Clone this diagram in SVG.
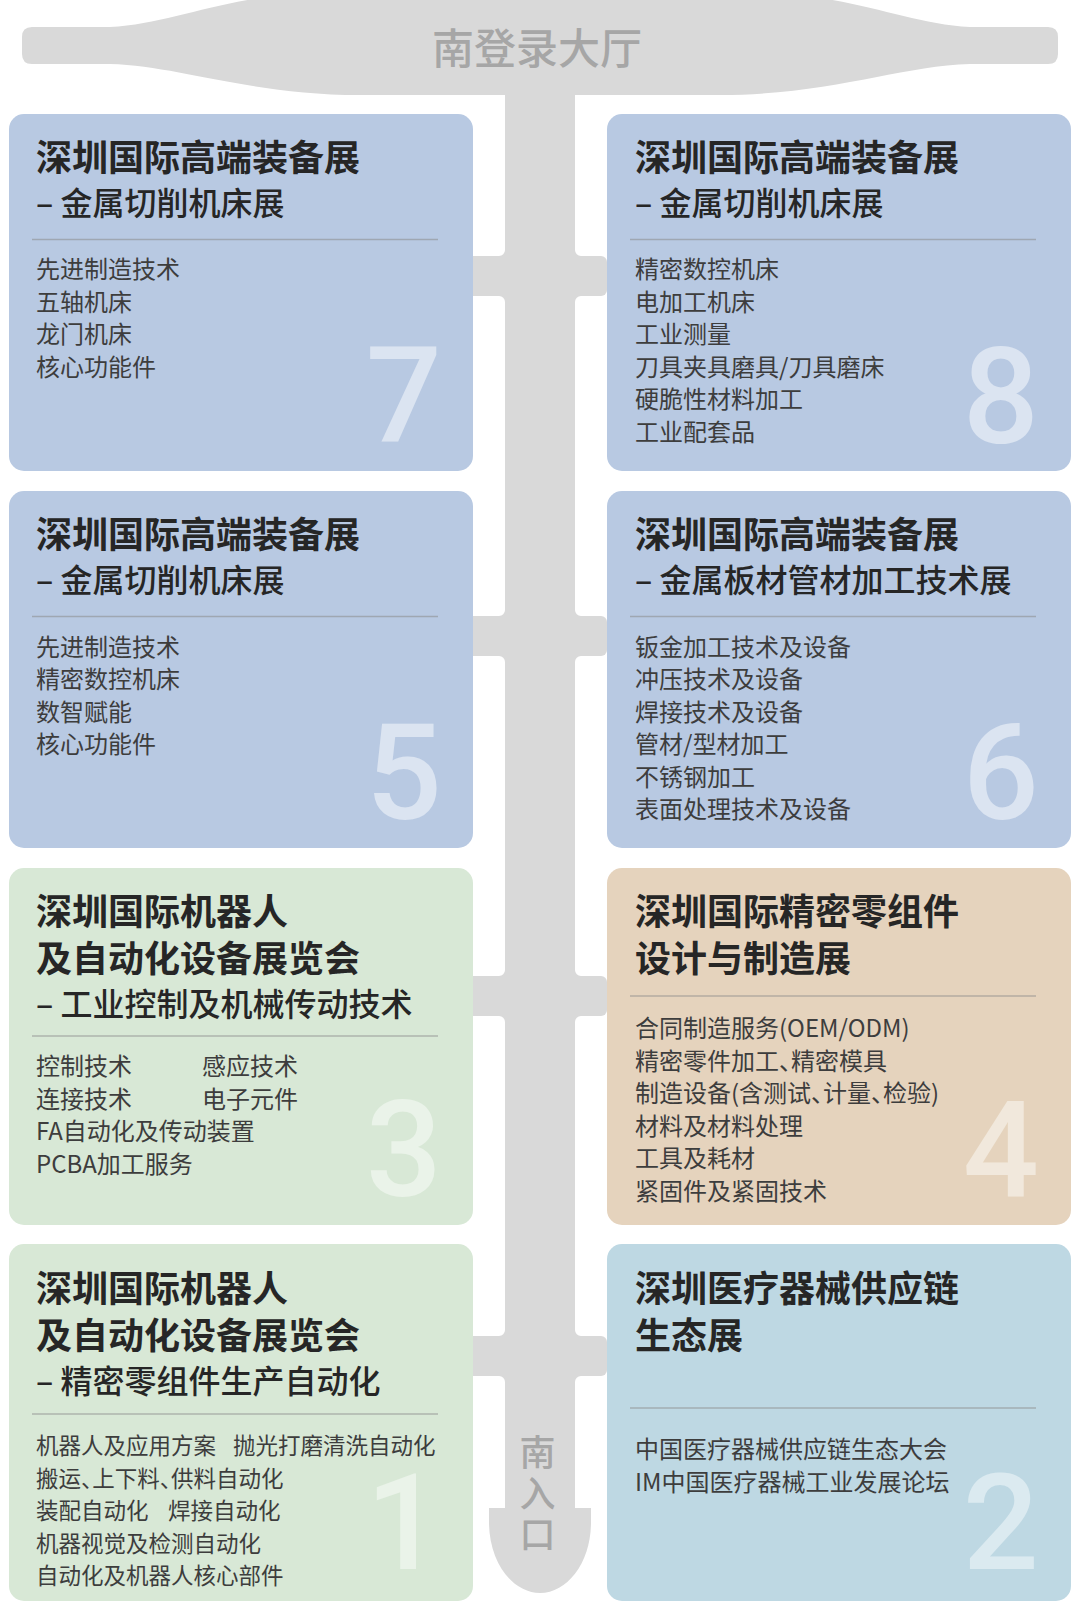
<svg xmlns="http://www.w3.org/2000/svg" width="1080" height="1603" viewBox="0 0 1080 1603">
<style>
.gray{fill:#d9d9d9}
.lbl{font-family:"Noto Sans CJK SC",sans-serif;font-weight:500;fill:#a6a6a6;text-anchor:middle;font-size:42px}
.vl{font-family:"Noto Sans CJK SC",sans-serif;font-weight:500;fill:#a6a6a6;font-size:36px;writing-mode:vertical-rl;letter-spacing:5px}
.blue{fill:#b8c9e2}
.green{fill:#d8e8d6}
.beige{fill:#e5d3bd}
.lblue{fill:#bed8e3}
.t1{font-family:"Noto Sans CJK SC",sans-serif;font-weight:700;font-size:36px;fill:#262626}
.t2{font-family:"Noto Sans CJK SC",sans-serif;font-weight:500;font-size:32px;fill:#262626}
.it{font-family:"Noto Sans CJK SC",sans-serif;font-weight:400;font-size:24px;fill:#3d3d3d}
.it.sm{font-size:22.5px}
.half{font-feature-settings:"halt" 1}
.num{font-family:Roboto,"Liberation Sans",sans-serif;font-weight:500;font-size:134px;text-anchor:end}
.nb{fill:#dbe4f1}
.ng{fill:#eaf3e9}
.ne{fill:#f1e8dc}
.nl{fill:#dbeaf0}
.dv{stroke:#8a8a8a;stroke-opacity:0.55;stroke-width:1.5}
</style>
<g id="connectors">
<rect class="gray" x="505" y="60" width="70" height="1452"/>
<path class="gray" d="M489,1508 L591,1508 L591,1522 C591,1563 567,1593 540,1593 C513,1593 489,1563 489,1522 Z"/>
<rect class="gray" x="466" y="256" width="141" height="40" rx="6"/>
<rect class="gray" x="466" y="616" width="141" height="40" rx="6"/>
<rect class="gray" x="466" y="976" width="141" height="40" rx="6"/>
<rect class="gray" x="466" y="1336" width="141" height="40" rx="6"/>
<path class="gray" d="M505,250 L505,256 L499,256 A6 6 0 0 0 505,250 Z M575,250 L575,256 L581,256 A6 6 0 0 1 575,250 Z M505,302 L505,296 L499,296 A6 6 0 0 1 505,302 Z M575,302 L575,296 L581,296 A6 6 0 0 0 575,302 Z"/>
<path class="gray" d="M505,610 L505,616 L499,616 A6 6 0 0 0 505,610 Z M575,610 L575,616 L581,616 A6 6 0 0 1 575,610 Z M505,662 L505,656 L499,656 A6 6 0 0 1 505,662 Z M575,662 L575,656 L581,656 A6 6 0 0 0 575,662 Z"/>
<path class="gray" d="M505,970 L505,976 L499,976 A6 6 0 0 0 505,970 Z M575,970 L575,976 L581,976 A6 6 0 0 1 575,970 Z M505,1022 L505,1016 L499,1016 A6 6 0 0 1 505,1022 Z M575,1022 L575,1016 L581,1016 A6 6 0 0 0 575,1022 Z"/>
<path class="gray" d="M505,1330 L505,1336 L499,1336 A6 6 0 0 0 505,1330 Z M575,1330 L575,1336 L581,1336 A6 6 0 0 1 575,1330 Z M505,1382 L505,1376 L499,1376 A6 6 0 0 1 505,1382 Z M575,1382 L575,1376 L581,1376 A6 6 0 0 0 575,1382 Z"/>
<text class="vl" x="537.5" y="1434">南入口</text>
</g>
<g id="hall">
<path class="gray" d="M32,27 L110,27 C170,24 220,-2 300,-6 L780,-6 C860,-2 910,24 970,27 L1048,27 Q1058,27 1058,37 L1058,54 Q1058,64 1048,64 L970,64 C900,66 830,95 720,95 L360,95 C250,95 180,66 110,64 L32,64 Q22,64 22,54 L22,37 Q22,27 32,27 Z"/>
<text class="lbl" x="537" y="64">南登录大厅</text>
</g>
<g id="hall7">
<rect class="blue" x="9" y="114" width="464" height="357" rx="15"/>
<text class="t1" x="36" y="171">深圳国际高端装备展</text>
<text class="t2" x="36" y="215">– 金属切削机床展</text>
<line class="dv" x1="32" y1="239.5" x2="438" y2="239.5"/>
<text class="it"><tspan x="36" y="278">先进制造技术</tspan><tspan x="36" y="310.5">五轴机床</tspan><tspan x="36" y="343">龙门机床</tspan><tspan x="36" y="375.5">核心功能件</tspan></text>
<text class="num nb" x="442" y="442">7</text>
</g>
<g id="hall8">
<rect class="blue" x="607" y="114" width="464" height="357" rx="15"/>
<text class="t1" x="635" y="171">深圳国际高端装备展</text>
<text class="t2" x="635" y="215">– 金属切削机床展</text>
<line class="dv" x1="630" y1="239.5" x2="1036" y2="239.5"/>
<text class="it"><tspan x="635" y="278">精密数控机床</tspan><tspan x="635" y="310.5">电加工机床</tspan><tspan x="635" y="343">工业测量</tspan><tspan x="635" y="375.5">刀具夹具磨具/刀具磨床</tspan><tspan x="635" y="408">硬脆性材料加工</tspan><tspan x="635" y="440.5">工业配套品</tspan></text>
<text class="num nb" x="1039" y="443">8</text>
</g>
<g id="hall5">
<rect class="blue" x="9" y="491" width="464" height="357" rx="15"/>
<text class="t1" x="36" y="548">深圳国际高端装备展</text>
<text class="t2" x="36" y="592">– 金属切削机床展</text>
<line class="dv" x1="32" y1="616.5" x2="438" y2="616.5"/>
<text class="it"><tspan x="36" y="655.5">先进制造技术</tspan><tspan x="36" y="688">精密数控机床</tspan><tspan x="36" y="720.5">数智赋能</tspan><tspan x="36" y="753">核心功能件</tspan></text>
<text class="num nb" x="442" y="819">5</text>
</g>
<g id="hall6">
<rect class="blue" x="607" y="491" width="464" height="357" rx="15"/>
<text class="t1" x="635" y="548">深圳国际高端装备展</text>
<text class="t2" x="635" y="592">– 金属板材管材加工技术展</text>
<line class="dv" x1="630" y1="616.5" x2="1036" y2="616.5"/>
<text class="it"><tspan x="635" y="655.5">钣金加工技术及设备</tspan><tspan x="635" y="688">冲压技术及设备</tspan><tspan x="635" y="720.5">焊接技术及设备</tspan><tspan x="635" y="753">管材/型材加工</tspan><tspan x="635" y="785.5">不锈钢加工</tspan><tspan x="635" y="818">表面处理技术及设备</tspan></text>
<text class="num nb" x="1039" y="819">6</text>
</g>
<g id="hall3">
<rect class="green" x="9" y="868" width="464" height="357" rx="15"/>
<text class="t1" x="36" y="925">深圳国际机器人</text>
<text class="t1" x="36" y="972">及自动化设备展览会</text>
<text class="t2" x="36" y="1016">– 工业控制及机械传动技术</text>
<line class="dv" x1="32" y1="1036" x2="438" y2="1036"/>
<text class="it"><tspan x="36" y="1075">控制技术</tspan><tspan x="202" y="1075">感应技术</tspan><tspan x="36" y="1107.5">连接技术</tspan><tspan x="202" y="1107.5">电子元件</tspan><tspan x="36" y="1140">FA自动化及传动装置</tspan><tspan x="36" y="1172.5">PCBA加工服务</tspan></text>
<text class="num ng" x="442" y="1196">3</text>
</g>
<g id="hall4">
<rect class="beige" x="607" y="868" width="464" height="357" rx="15"/>
<text class="t1" x="635" y="925">深圳国际精密零组件</text>
<text class="t1" x="635" y="972">设计与制造展</text>
<line class="dv" x1="630" y1="996" x2="1036" y2="996"/>
<text class="it"><tspan x="635" y="1037">合同制造服务(OEM/ODM)</tspan><tspan class="half" x="635" y="1069.5">精密零件加工、精密模具</tspan><tspan class="half" x="635" y="1102">制造设备(含测试、计量、检验)</tspan><tspan x="635" y="1134.5">材料及材料处理</tspan><tspan x="635" y="1167">工具及耗材</tspan><tspan x="635" y="1199.5">紧固件及紧固技术</tspan></text>
<text class="num ne" x="1039" y="1196">4</text>
</g>
<g id="hall1">
<rect class="green" x="9" y="1244" width="464" height="357" rx="15"/>
<text class="t1" x="36" y="1302">深圳国际机器人</text>
<text class="t1" x="36" y="1349">及自动化设备展览会</text>
<text class="t2" x="36" y="1393">– 精密零组件生产自动化</text>
<line class="dv" x1="32" y1="1414" x2="438" y2="1414"/>
<text class="it sm"><tspan x="36" y="1454">机器人及应用方案</tspan><tspan x="233" y="1454">抛光打磨清洗自动化</tspan><tspan class="half" x="36" y="1486.5">搬运、上下料、供料自动化</tspan><tspan x="36" y="1519">装配自动化</tspan><tspan x="168" y="1519">焊接自动化</tspan><tspan x="36" y="1551.5">机器视觉及检测自动化</tspan><tspan x="36" y="1584">自动化及机器人核心部件</tspan></text>
<text class="num ng" x="442" y="1569">1</text>
</g>
<g id="hall2">
<rect class="lblue" x="607" y="1244" width="464" height="357" rx="15"/>
<text class="t1" x="635" y="1302">深圳医疗器械供应链</text>
<text class="t1" x="635" y="1349">生态展</text>
<line class="dv" x1="630" y1="1408" x2="1036" y2="1408"/>
<text class="it"><tspan x="635" y="1458">中国医疗器械供应链生态大会</tspan><tspan x="635" y="1490.5">IM中国医疗器械工业发展论坛</tspan></text>
<text class="num nl" x="1039" y="1569">2</text>
</g>
</svg>
